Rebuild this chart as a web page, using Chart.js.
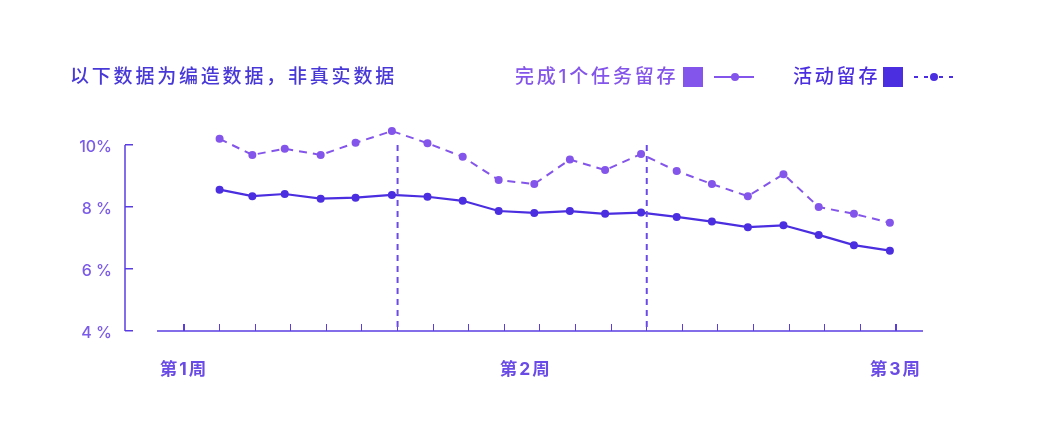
<!DOCTYPE html>
<html>
<head>
<meta charset="utf-8">
<script src="https://cdn.jsdelivr.net/npm/chart.js@4.4.0/dist/chart.umd.min.js"></script>
<style>
html, body { margin: 0; padding: 0; background: #fff; }
#wrap { position: relative; width: 1061px; height: 447px; }
#myChart { position: absolute; left: 0; top: 0; }
.hd { position: absolute; top: 65px; height: 24px; line-height: 24px; font-family: Inter, "Noto Sans CJK SC", sans-serif; font-size: 19px; font-weight: 500; letter-spacing: 2.8px; white-space: nowrap; }
.box { position: absolute; top: 67px; width: 20px; height: 20px; }
.sym { position: absolute; top: 76px; width: 40px; height: 2px; }
.dot { position: absolute; top: 73px; width: 8px; height: 8px; border-radius: 50%; }
</style>
</head>
<body>
<div id="wrap">
  <canvas id="myChart" width="1061" height="447"></canvas>
  <div class="hd" style="left:70px;color:#4838d8;">以下数据为编造数据，非真实数据</div>

  <div class="hd" style="left:515px;color:#8455ea;">完成1个任务留存</div>
  <div class="box" style="left:683px;background:#8455ea;"></div>
  <div class="sym" style="left:714px;background:#8455ea;"></div>
  <div class="dot" style="left:731px;background:#8455ea;"></div>

  <div class="hd" style="left:793px;color:#4b2ee0;">活动留存</div>
  <div class="box" style="left:883px;background:#4b2ee0;"></div>
  <div class="sym" style="left:914px;background:linear-gradient(to right,#4b2ee0 0 4px,transparent 4px 10px,#4b2ee0 10px 14px,transparent 14px 25px,#4b2ee0 25px 29px,transparent 29px 35px,#4b2ee0 35px 39px,transparent 39px);"></div>
  <div class="dot" style="left:930px;background:#4b2ee0;"></div>
</div>

<script>
// 数据
var weekLabels = ['第1周', '第2周', '第3周'];
var weekPos = [0, 9.6, 20];
var dayPos = [1, 1.92, 2.83, 3.84, 4.82, 5.84, 6.84, 7.83, 8.84, 9.84, 10.84, 11.83, 12.84, 13.84, 14.83, 15.84, 16.84, 17.83, 18.82, 19.83];
var taskRetention = [10.2, 9.68, 9.88, 9.68, 10.07, 10.45, 10.06, 9.62, 8.87, 8.74, 9.53, 9.19, 9.71, 9.16, 8.74, 8.35, 9.06, 8.0, 7.78, 7.49];
var activeRetention = [8.56, 8.35, 8.42, 8.27, 8.30, 8.39, 8.33, 8.20, 7.87, 7.81, 7.87, 7.78, 7.82, 7.68, 7.53, 7.35, 7.41, 7.10, 6.77, 6.59];
var markerPos = [6, 13];
var yTicks = [4, 6, 8, 10];
var tickCount = 21;

var lightColor = '#8455ea';
var darkColor = '#4b2ee0';
var axisColor = '#5a3de2';
var fontFamily = 'Inter, "Noto Sans CJK SC", sans-serif';

// 坐标范围
var xMin = -1.657, xMax = 20.76, axisStart = -0.758;
var yMin = 4, yTop = 10, yMax = 10.6;

function toPoints(xs, ys) {
    return xs.map(function (x, i) { return { x: x, y: ys[i] }; });
}

var datasets = [];

// 轴线
datasets.push({
    data: [{ x: axisStart, y: yMin }, { x: xMax, y: yMin }],
    borderColor: axisColor,
    borderWidth: 1.5,
    pointRadius: 0,
    clip: false
});
datasets.push({
    data: [{ x: xMin, y: yMin }, { x: xMin, y: yTop }],
    borderColor: axisColor,
    borderWidth: 1.5,
    pointRadius: 0,
    clip: false
});

markerPos.forEach(function (p) {
    datasets.push({
        data: [{ x: p, y: yTop }, { x: p, y: yMin }],
        borderColor: '#6b4be6',
        borderWidth: 2,
        borderDash: [6, 5],
        pointRadius: 0,
        clip: false
    });
});

datasets.push({
    label: '完成1个任务留存',
    data: toPoints(dayPos, taskRetention),
    borderColor: lightColor,
    backgroundColor: lightColor,
    borderWidth: 2,
    borderDash: [8, 6],
    pointRadius: 4,
    pointBorderWidth: 0,
    clip: false
});

datasets.push({
    label: '活动留存',
    data: toPoints(dayPos, activeRetention),
    borderColor: darkColor,
    backgroundColor: darkColor,
    borderWidth: 2.2,
    pointRadius: 4,
    pointBorderWidth: 0,
    clip: false
});

// 周标签字间距
var spacingPlugin = {
    id: 'weekSpacing',
    afterDatasetsDraw: function (chart) { chart.ctx.letterSpacing = '2px'; },
    afterDraw: function (chart) { chart.ctx.letterSpacing = '0px'; }
};

var ctx = document.getElementById('myChart').getContext('2d');

var myChart = new Chart(ctx, {
    type: 'line',
    data: { datasets: datasets },
    plugins: [spacingPlugin],
    options: {
        responsive: false,
        animation: false,
        events: [],
        layout: { padding: { top: 126.4, right: 138, left: 0, bottom: 0 } },
        plugins: {
            legend: { display: false },
            tooltip: { enabled: false }
        },
        scales: {
            x: {
                type: 'linear',
                position: 'bottom',
                weight: 0,
                min: xMin,
                max: xMax,
                afterBuildTicks: function (s) {
                    var t = [];
                    for (var i = 0; i < tickCount; i++) t.push({ value: i });
                    s.ticks = t;
                },
                afterFit: function (s) { s.height = 0; },
                ticks: { display: false },
                border: { display: false },
                grid: {
                    drawOnChartArea: false,
                    drawTicks: true,
                    tickLength: -7,
                    color: axisColor,
                    lineWidth: function (c) {
                        return (c.tick && (c.tick.value === 0 || c.tick.value === tickCount - 1)) ? 2 : 1;
                    }
                }
            },
            xw: {
                type: 'linear',
                position: 'bottom',
                weight: 1,
                min: xMin,
                max: xMax,
                afterBuildTicks: function (s) {
                    s.ticks = weekPos.map(function (v) { return { value: v }; });
                },
                afterFit: function (s) { s.height = 116; },
                border: { display: false },
                grid: { display: false, drawTicks: false },
                ticks: {
                    z: 1,
                    autoSkip: false,
                    maxRotation: 0,
                    padding: 28,
                    color: '#6b4be6',
                    font: { family: fontFamily, size: 17.5, weight: 'bold' },
                    callback: function (v) {
                        var i = weekPos.indexOf(v);
                        return i >= 0 ? weekLabels[i] : '';
                    }
                }
            },
            y: {
                type: 'linear',
                position: 'left',
                min: yMin,
                max: yMax,
                afterBuildTicks: function (s) {
                    s.ticks = yTicks.map(function (v) { return { value: v }; });
                },
                afterFit: function (s) { s.width = 125; },
                border: { display: false },
                grid: {
                    drawOnChartArea: false,
                    drawTicks: true,
                    tickLength: -8,
                    color: axisColor,
                    lineWidth: 1.5
                },
                ticks: {
                    padding: 21,
                    labelOffset: 2,
                    color: '#7b5be9',
                    font: { family: fontFamily, size: 16, weight: '500' },
                    callback: function (v) { return v >= 10 ? v + '%' : v + ' %'; }
                }
            }
        }
    }
});
</script>
</body>
</html>
